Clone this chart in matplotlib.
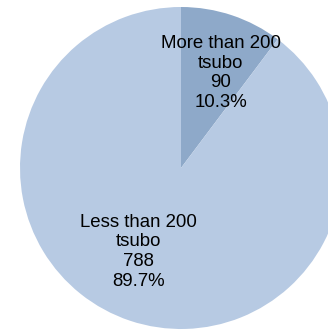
import matplotlib
matplotlib.use("Agg")
import matplotlib.pyplot as plt

categories = ["More than 200\ntsubo", "Less than 200\ntsubo"]
values = [90, 788]
colors = ["#8EA9C9", "#B7CAE3"]

total = sum(values)
labels = [f"{c}\n{v}\n{v / total * 100:.1f}%" for c, v in zip(categories, values)]

fig = plt.figure(figsize=(3.28, 3.30), dpi=100)
ax = fig.add_axes([20 / 328, 1 / 330, 322 / 328, 322 / 330])
wedges, texts = ax.pie(values, colors=colors, startangle=90, counterclock=False,
                       labels=labels, labeldistance=0.68,
                       wedgeprops=dict(linewidth=0),
                       textprops=dict(fontsize=13.4, family="Liberation Sans",
                                      color="#000000", linespacing=1.2))
pos = [(0.248, 0.59), (-0.264, -0.52)]
for t, p in zip(texts, pos):
    t.set_position(p)
    t.set_horizontalalignment("center")
    t.set_verticalalignment("center")
    t.set_multialignment("center")
ax.set_xlim(-1, 1)
ax.set_ylim(-1, 1)
fig.savefig("out.png", dpi=100)
